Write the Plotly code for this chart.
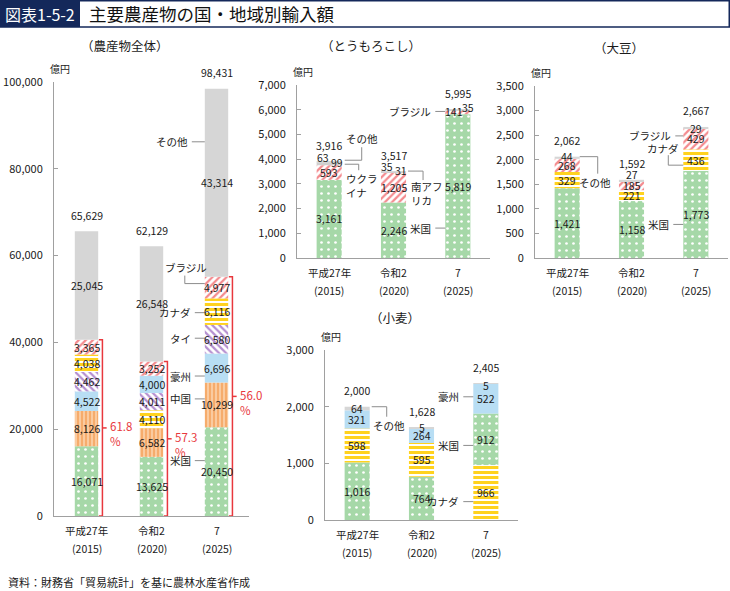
import plotly.graph_objects as go

# 年次（x軸）
year_names = ['平成27年', '令和2', '7']
year_nums = ['(2015)', '(2020)', '(2025)']

# 農産物全体（億円）
all_us = [16071, 13625, 20450]
all_china = [8126, 6582, 10299]
all_aus = [4522, 4000, 6696]
all_thai = [4462, 4011, 6580]
all_canada = [4038, 4110, 6116]
all_brazil = [3365, 3252, 4977]
all_other = [25045, 26548, 43314]
all_totals = [65629, 62129, 98431]

# とうもろこし
corn_us = [3161, 2246, 5819]
corn_brazil = [593, 1205, 141]
corn_ukraine = [99, 0, 0]
corn_safrica = [0, 31, 0]
corn_other = [63, 35, 35]
corn_totals = [3916, 3517, 5995]

# 大豆
soy_us = [1421, 1158, 1773]
soy_canada = [329, 221, 436]
soy_brazil = [268, 185, 429]
soy_other = [44, 27, 29]
soy_totals = [2062, 1592, 2667]

# 小麦
wheat_us = [1016, 764, 912]
wheat_canada = [598, 595, 966]
wheat_aus = [321, 264, 522]
wheat_other = [64, 5, 5]
wheat_totals = [2000, 1628, 2405]

FONT = 'Noto Sans CJK JP'
TXT = '#1a1a1a'
LEAD = '#8c8c8c'
RED = '#e8383d'
NAVY = '#14285a'
W, H = 730, 591
NUM = 10.5

styles = {
    '米国': dict(shape='.', bg='#a6d8a8', fg='#ffffff', size=7, sol=0.12),
    '中国': dict(shape='|', bg='#f6ac6c', fg='#fcd9b6', size=4, sol=0.35),
    '豪州': dict(shape='', bg='#b8def4'),
    'タイ': dict(shape='\\', bg='#ffffff', fg='#b58fd0', size=5, sol=0.45),
    'カナダ': dict(shape='-', bg='#ffffff', fg='#ffd21e', size=5, sol=0.6),
    'ブラジル': dict(shape='/', bg='#ffffff', fg='#f48a8e', size=5, sol=0.45),
    'ウクライナ': dict(shape='', bg='#cfcfcf'),
    '南アフリカ': dict(shape='', bg='#cfcfcf'),
    'その他': dict(shape='', bg='#d6d6d6'),
}


def marker_for(name):
    s = styles[name]
    if not s['shape']:
        return dict(color=s['bg'], line=dict(width=0))
    return dict(color=s['bg'], line=dict(width=0),
                pattern=dict(shape=s['shape'], bgcolor=s['bg'], fgcolor=s['fg'],
                             size=s['size'], solidity=s['sol'], fillmode='replace'))


def stack(series):
    # 年ごとに金額の大きい順に積み上げ、その他は一番上
    bases = {k: [0, 0, 0] for k in series}
    for i in range(3):
        order = sorted([k for k in series if k != 'その他'], key=lambda k: -series[k][i])
        order.append('その他')
        b = 0
        for k in order:
            bases[k][i] = b
            b += series[k][i]
    return bases


def tops(series):
    return [sum(series[k][i] for k in series) for i in range(3)]


fig = go.Figure()


def add_bars(series, xa, ya, width):
    bases = stack(series)
    for k, v in series.items():
        fig.add_trace(go.Bar(x=[0, 1, 2], y=v, base=bases[k], width=width, name=k,
                             marker=marker_for(k), xaxis=xa, yaxis=ya,
                             hoverinfo='skip', showlegend=False))
    # x軸ラベル（2行）
    for i in range(3):
        for text, shift in [(year_names[i], -14), (year_nums[i], -32)]:
            fig.add_annotation(x=i, y=0, xref=xa, yref=ya, text=text, showarrow=False,
                               yshift=shift, yanchor='middle',
                               font=dict(size=10.5, color=TXT))
    return bases


def seg_labels(series, bases, totals, xa, ya, tiny={}):
    top = tops(series)
    for k, v in series.items():
        for i in range(3):
            if not v[i]:
                continue
            if (k, i) in tiny:
                dx, dy = tiny[(k, i)]
                fig.add_annotation(x=i, y=top[i], xref=xa, yref=ya, text=f'{v[i]:,}',
                                   showarrow=False, xshift=dx, yshift=dy,
                                   font=dict(size=NUM, color=TXT))
            else:
                fig.add_annotation(x=i, y=bases[k][i] + v[i] / 2, xref=xa, yref=ya,
                                   text=f'{v[i]:,}', showarrow=False,
                                   font=dict(size=NUM, color=TXT))
    for i, t in enumerate(totals):
        fig.add_annotation(x=i, y=top[i], xref=xa, yref=ya, text=f'{t:,}',
                           showarrow=False, yshift=16, font=dict(size=NUM, color=TXT))


def leader(xa, ya, x, y, text, path, tx, ty, xanchor='right', yanchor='middle'):
    fig.add_shape(type='path', xref=xa, yref=ya, xsizemode='pixel', ysizemode='pixel',
                  xanchor=x, yanchor=y, path=path, line=dict(color=LEAD, width=1))
    fig.add_annotation(x=x, y=y, xref=xa, yref=ya, xshift=tx, yshift=ty, text=text,
                       showarrow=False, xanchor=xanchor, yanchor=yanchor, align='left',
                       font=dict(size=10.5, color=TXT))


def straight(xa, ya, x, y, text, dy, length=10):
    leader(xa, ya, x, y, text, f'M {-length},{dy} L 0,{dy}', -length - 2, dy)


# ---- 農産物全体 ----
s_all = {'米国': all_us, '中国': all_china, '豪州': all_aus, 'タイ': all_thai,
         'カナダ': all_canada, 'ブラジル': all_brazil, 'その他': all_other}
b_all = add_bars(s_all, 'x', 'y', 0.36)
seg_labels(s_all, b_all, all_totals, 'x', 'y')

# 主要6か国の合計を示す赤い括弧と割合
for i in range(3):
    top6 = all_totals[i] - all_other[i]
    hi = sum(s_all[k][i] for k in s_all if k != 'その他')
    share = top6 / all_totals[i] * 100
    fig.add_shape(type='path', xref='x', yref='y',
                  path=f'M {i+0.19},{hi} L {i+0.245},{hi} L {i+0.245},0 L {i+0.19},0',
                  line=dict(color=RED, width=1.5))
    fig.add_shape(type='line', xref='x', yref='y', x0=i + 0.245, x1=i + 0.31,
                  y0=hi / 2, y1=hi / 2, line=dict(color=RED, width=1.5))
    fig.add_annotation(x=i + 0.33, y=hi / 2, xref='x', yref='y', text=f'{share:.1f}<br>%',
                       showarrow=False, xanchor='left', yanchor='middle', align='left',
                       yshift=-6, font=dict(size=11.5, color=RED))

xl = 2 - 0.18
mid = {k: b_all[k][2] + s_all[k][2] / 2 for k in s_all}
straight('x', 'y', xl, mid['その他'], 'その他', 41, 13)
straight('x', 'y', xl, mid['カナダ'], 'カナダ', -1)
straight('x', 'y', xl, mid['タイ'], 'タイ', 1)
straight('x', 'y', xl, mid['豪州'], '豪州', -8)
straight('x', 'y', xl, mid['中国'], '中国', 6)
straight('x', 'y', xl, mid['米国'], '米国', 11)
leader('x', 'y', xl, mid['ブラジル'], 'ブラジル', 'M -20,12 L -20,4 L 0,4', -19, 20,
       xanchor='center')

# ---- とうもろこし ----
s_corn = {'米国': corn_us, 'ブラジル': corn_brazil, 'ウクライナ': corn_ukraine,
          '南アフリカ': corn_safrica, 'その他': corn_other}
b_corn = add_bars(s_corn, 'x2', 'y2', 0.39)
seg_labels(s_corn, b_corn, corn_totals, 'x2', 'y2',
           tiny={('その他', 0): (-6, 4), ('ウクライナ', 0): (8, -1),
                 ('その他', 1): (-7, 5), ('南アフリカ', 1): (7, 1),
                 ('ブラジル', 2): (-4, -2), ('その他', 2): (10, 2)})
t_corn = tops(s_corn)
leader('x2', 'y2', 0.195, t_corn[0], 'その他', 'M 3,1 L 20,1 L 20,14', 20, 23,
       xanchor='center')
leader('x2', 'y2', 0.195, t_corn[0], 'ウクラ<br>イナ', 'M 3,-3 L 17,-3 L 17,-9', 2, -8,
       xanchor='left', yanchor='top')
leader('x2', 'y2', 1.195, t_corn[1], '南アフ<br>リカ', 'M 2,0 L 17,0 L 17,-9', 3, -6,
       xanchor='left', yanchor='top')
straight('x2', 'y2', 2 - 0.195, b_corn['ブラジル'][2] + corn_brazil[2] / 2, 'ブラジル', 1)
straight('x2', 'y2', 2 - 0.195, corn_us[2] / 2, '米国', -42)

# ---- 大豆 ----
s_soy = {'米国': soy_us, 'カナダ': soy_canada, 'ブラジル': soy_brazil, 'その他': soy_other}
b_soy = add_bars(s_soy, 'x3', 'y3', 0.39)
seg_labels(s_soy, b_soy, soy_totals, 'x3', 'y3',
           tiny={('その他', 0): (0, 0), ('その他', 1): (0, 5), ('その他', 2): (0, -2)})
t_soy = tops(s_soy)
leader('x3', 'y3', 0.195, t_soy[0], 'その他', 'M 0,0 L 18,0 L 18,-17', 15, -26,
       xanchor='center')
straight('x3', 'y3', 2 - 0.195, b_soy['ブラジル'][2] + soy_brazil[2] / 2, 'ブラジル', 3, 8)
leader('x3', 'y3', 2 - 0.195, b_soy['カナダ'][2] + soy_canada[2] / 2, 'カナダ',
       'M -15,5 L -15,-5 L 0,-5', -20, 12, xanchor='center')
straight('x3', 'y3', 2 - 0.195, soy_us[2] / 2, '米国', -10)

# ---- 小麦 ----
s_wheat = {'米国': wheat_us, 'カナダ': wheat_canada, '豪州': wheat_aus, 'その他': wheat_other}
b_wheat = add_bars(s_wheat, 'x4', 'y4', 0.39)
seg_labels(s_wheat, b_wheat, wheat_totals, 'x4', 'y4',
           tiny={('その他', 0): (0, -2), ('その他', 1): (0, 0), ('その他', 2): (0, -2)})
t_wheat = tops(s_wheat)
leader('x4', 'y4', 0.195, t_wheat[0], 'その他', 'M 2,0 L 17,0 L 17,-10', 19, -19,
       xanchor='center')
xw = 2 - 0.195
straight('x4', 'y4', xw, b_wheat['豪州'][2] + wheat_aus[2] / 2, '豪州', 2)
straight('x4', 'y4', xw, b_wheat['米国'][2] + wheat_us[2] / 2, '米国', -6)
straight('x4', 'y4', xw, b_wheat['カナダ'][2] + wheat_canada[2] / 2, 'カナダ', -9)


# ---- 軸 ----
def px(x):
    return x / W


def py(y):
    return 1 - y / H


def xaxis(x0, x1, anchor):
    return dict(domain=[px(x0), px(x1)], anchor=anchor, range=[-0.5, 2.5],
                showticklabels=False, showline=True, linecolor='#a0a0a0',
                linewidth=1, ticks='', showgrid=False, zeroline=False, fixedrange=True,
                automargin=False)


def yaxis(y0, y1, anchor, top, step):
    return dict(domain=[py(y0), py(y1)], anchor=anchor, range=[0, top], dtick=step,
                tickformat=',', showline=True, linecolor='#a0a0a0', linewidth=1,
                ticks='inside', ticklen=4, tickcolor='#a0a0a0', showgrid=False,
                zeroline=False, fixedrange=True, automargin=False,
                tickfont=dict(size=11, color=TXT), ticklabelstandoff=8)


fig.update_layout(
    width=W, height=H, margin=dict(l=0, r=0, t=0, b=0, pad=0), autosize=False,
    paper_bgcolor='white', plot_bgcolor='white', barmode='overlay',
    font=dict(family=FONT, color=TXT), showlegend=False,
    xaxis=xaxis(54, 249, 'y'), yaxis=yaxis(516, 82, 'x', 100000, 20000),
    xaxis2=xaxis(297, 490, 'y2'), yaxis2=yaxis(258, 85, 'x2', 7000, 1000),
    xaxis3=xaxis(535, 728, 'y3'), yaxis3=yaxis(258, 86, 'x3', 3500, 500),
    xaxis4=xaxis(325, 518, 'y4'), yaxis4=yaxis(520, 350, 'x4', 3000, 1000),
)

# 単位
for xa, ya in [('x', 'y'), ('x2', 'y2'), ('x3', 'y3'), ('x4', 'y4')]:
    fig.add_annotation(x=0, y=1, xref=f'{xa} domain', yref=f'{ya} domain', text='億円',
                       showarrow=False, xanchor='left', yanchor='bottom', yshift=4,
                       xshift=-6, font=dict(size=10, color=TXT))


def paper_text(text, x, y, size, color=TXT, xanchor='center'):
    fig.add_annotation(x=px(x), y=py(y), xref='paper', yref='paper', text=text,
                       showarrow=False, xanchor=xanchor, yanchor='middle',
                       font=dict(size=size, color=color))


# パネル見出し
for text, x, y in [('（農産物全体）', 125, 46), ('（とうもろこし）', 371, 45),
                   ('（大豆）', 619, 47), ('（小麦）', 395, 318)]:
    paper_text(text, x, y, 12.5)

# 図表タイトル
fig.add_shape(type='rect', xref='paper', yref='paper', x0=0, x1=px(80), y0=py(27), y1=1,
              fillcolor=NAVY, line=dict(width=0))
fig.add_shape(type='rect', xref='paper', yref='paper', x0=px(0.75), x1=px(729.25),
              y0=py(27), y1=py(0.75), line=dict(color=NAVY, width=1.5))
paper_text('図表1-5-2', 40, 14, 16, 'white')
paper_text('主要農産物の国・地域別輸入額', 87, 14, 17.5, '#111111', 'left')

# 資料
paper_text('資料：財務省「貿易統計」を基に農林水産省作成', 6, 582, 11, TXT, 'left')

# ページ余白を消して図を左上にそろえる
fig.write_html('out.html', config={'displayModeBar': False},
               post_script="document.body.style.margin='0';")
